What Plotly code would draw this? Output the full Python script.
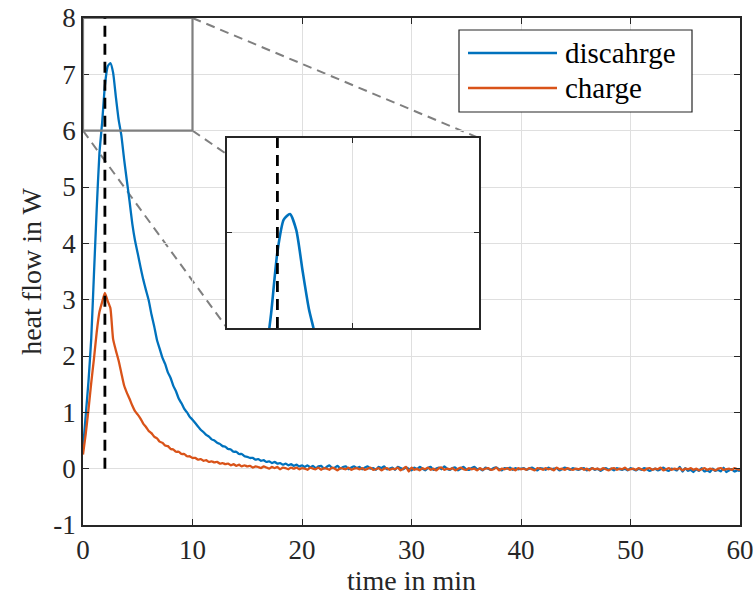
import plotly.graph_objects as go

# ---------------- data ----------------
SAMPLE_START_MIN = 0.0
SAMPLE_STEP_MIN = 0.25

discharge_W = [
    0.35, 0.95, 1.55, 2.30, 3.45, 4.60, 5.60, 6.15, 6.80, 7.14, 7.20, 7.03, 6.60, 6.20, 5.92, 5.50, 5.12, 4.75, 4.35, 4.05, 3.82,
    3.58, 3.36, 3.17, 2.99, 2.74, 2.53, 2.29, 2.13, 1.97, 1.86, 1.71, 1.61, 1.47, 1.37, 1.24, 1.16, 1.06, 1.00, 0.92, 0.87,
    0.81, 0.75, 0.69, 0.65, 0.60, 0.57, 0.52, 0.50, 0.46, 0.44, 0.40, 0.39, 0.35, 0.34, 0.30, 0.30, 0.26, 0.26, 0.22, 0.21,
    0.19, 0.19, 0.16, 0.17, 0.14, 0.15, 0.12, 0.13, 0.10, 0.12, 0.09, 0.10, 0.07, 0.09, 0.06, 0.08, 0.05, 0.07, 0.04, 0.06,
    0.03, 0.06, 0.02, 0.05, 0.01, 0.04, 0.05, 0.00, 0.03, 0.06, 0.01, 0.02, 0.05, 0.00, 0.03, 0.04, -0.01, 0.02, 0.04, 0.01,
    0.03, -0.01, 0.02, 0.04, 0.00, 0.01, -0.02, 0.03, 0.01, 0.04, -0.01, 0.00, 0.02, -0.02, 0.03, 0.01, -0.01, 0.02, 0.00, -0.03,
    0.02, -0.01, 0.03, 0.00, -0.03, 0.01, 0.03, -0.02, 0.00, 0.02, -0.01, 0.04, 0.00, -0.02, 0.01, 0.02, -0.03, 0.00, 0.03, -0.01,
    -0.02, 0.01, 0.03, -0.01, 0.00, -0.03, 0.02, 0.00, -0.02, 0.01, 0.02, -0.01, -0.03, 0.01, 0.00, 0.02, -0.02, 0.01, -0.01, 0.00,
    0.01, -0.02, 0.00, 0.02, -0.01, -0.03, 0.01, 0.00, -0.02, 0.02, -0.01, 0.00, 0.01, -0.03, -0.01, 0.02, 0.00, -0.02, 0.01, -0.01,
    -0.02, 0.00, 0.01, -0.03, -0.01, 0.01, -0.02, 0.00, -0.04, -0.01, 0.01, -0.02, 0.00, -0.03, 0.01, -0.01, -0.02, 0.00, -0.03, 0.01,
    -0.01, -0.03, 0.00, -0.02, 0.01, -0.01, -0.04, -0.02, 0.00, -0.03, -0.01, 0.02, -0.02, -0.04, 0.00, -0.01, -0.03, 0.03, -0.05, 0.01,
    -0.04, -0.02, -0.06, -0.01, -0.04, 0.01, -0.05, -0.03, -0.06, 0.00, -0.04, -0.02, -0.05, 0.02, -0.06, -0.03, -0.01, -0.05, -0.03, -0.04,
]

charge_W = [
    0.25, 0.62, 1.05, 1.52, 1.95, 2.42, 2.78, 2.96, 3.12, 2.98, 2.85, 2.30, 2.10, 1.92, 1.70, 1.48, 1.35, 1.24, 1.12, 1.02, 0.96,
    0.89, 0.80, 0.74, 0.67, 0.63, 0.57, 0.54, 0.48, 0.46, 0.41, 0.40, 0.35, 0.34, 0.30, 0.30, 0.26, 0.26, 0.22, 0.22, 0.19,
    0.19, 0.16, 0.17, 0.14, 0.15, 0.12, 0.13, 0.11, 0.12, 0.09, 0.10, 0.08, 0.09, 0.06, 0.08, 0.05, 0.07, 0.04, 0.06, 0.04,
    0.05, 0.02, 0.04, 0.03, 0.01, 0.04, 0.02, 0.00, 0.03, 0.01, 0.03, -0.01, 0.02, 0.01, -0.01, 0.02, 0.00, 0.02, -0.01, 0.01,
    0.00, -0.02, 0.02, 0.00, -0.01, 0.02, -0.02, 0.01, 0.00, -0.02, 0.02, 0.00, -0.03, 0.01, 0.00, -0.01, 0.02, -0.02, 0.00, 0.01,
    -0.01, 0.01, -0.02, 0.00, 0.02, -0.02, -0.01, 0.01, -0.03, 0.00, 0.01, -0.02, 0.00, -0.01, 0.02, -0.03, 0.00, 0.03, -0.05, 0.02,
    -0.02, 0.00, -0.03, 0.01, -0.01, 0.02, -0.02, 0.00, -0.03, 0.01, 0.02, -0.02, 0.00, -0.01, 0.01, -0.03, 0.00, 0.02, -0.01, -0.02,
    0.01, -0.01, 0.00, -0.03, 0.01, -0.02, 0.00, 0.01, -0.02, -0.01, 0.02, -0.03, 0.00, -0.01, 0.01, -0.02, 0.00, -0.03, 0.01, -0.01,
    0.00, -0.02, 0.01, -0.01, -0.03, 0.01, 0.00, -0.02, 0.01, -0.01, 0.00, -0.03, 0.02, -0.01, 0.00, -0.02, 0.01, -0.01, -0.02, 0.00,
    -0.01, 0.01, -0.02, 0.00, -0.03, 0.01, -0.01, 0.00, -0.02, 0.01, -0.01, -0.03, 0.00, 0.01, -0.02, 0.00, -0.01, 0.02, -0.02, -0.01,
    0.00, -0.02, 0.01, -0.01, -0.03, 0.00, 0.01, -0.02, 0.00, -0.01, 0.02, -0.03, -0.01, 0.01, -0.02, 0.00, -0.01, 0.01, -0.03, 0.00,
    -0.01, 0.01, -0.02, 0.00, -0.03, -0.01, 0.01, -0.02, 0.00, -0.01, -0.03, 0.00, 0.01, -0.02, -0.01, 0.00, -0.02, 0.01, -0.01, -0.02,
]

series_names = ["discahrge", "charge"]
series_colors = ["#0072BD", "#D95319"]

x_range = [0, 60]
y_range = [-1, 8]
x_ticks = [0, 10, 20, 30, 40, 50, 60]
x_tick_labels = ["0", "10", "20", "30", "40", "50", "60"]
y_ticks = [-1, 0, 1, 2, 3, 4, 5, 6, 7, 8]
y_tick_labels = ["-1", "0", "1", "2", "3", "4", "5", "6", "7", "8"]

zoom_x = [0, 10]
zoom_y = [6, 8]
zoom_x_tick = [5]
zoom_y_tick = [7]
marker_time_min = 2.0
marker_y = [0, 8]

x_title = "time in min"
y_title = "heat flow in W"

# ---------------- styling ----------------
FONT = "Liberation Serif"
TXT = "#262626"
GRID = "#DFDFDF"
GRAY = "#7F7F7F"
W, H = 753, 597
ML, MR, MT, MB = 83, 13, 18, 72

inset_dom_x = [0.2192, 0.6027]
inset_dom_y = [0.3886, 0.7633]

fig = go.Figure()

for vals, name, col in zip([discharge_W, charge_W], series_names, series_colors):
    fig.add_trace(go.Scatter(x0=SAMPLE_START_MIN, dx=SAMPLE_STEP_MIN, y=vals, mode="lines",
                             name=name, line=dict(color=col, width=2.3, shape="spline", smoothing=0.5),
                             showlegend=False, xaxis="x", yaxis="y", hoverinfo="skip"))
for vals, name, col in zip([discharge_W, charge_W], series_names, series_colors):
    fig.add_trace(go.Scatter(x0=SAMPLE_START_MIN, dx=SAMPLE_STEP_MIN, y=vals, mode="lines",
                             name=name, line=dict(color=col, width=2.6, shape="spline", smoothing=0.6),
                             showlegend=False, xaxis="x2", yaxis="y2", hoverinfo="skip"))

axis_common = dict(showline=True, linecolor=TXT, linewidth=1.5, mirror="allticks",
                   ticks="inside", tickcolor=TXT, tickwidth=1.3, automargin=False,
                   showgrid=True, gridcolor=GRID, gridwidth=1, zeroline=False,
                   ticklabeloverflow="allow",
                   tickfont=dict(family=FONT, size=27, color=TXT))

fig.update_layout(
    width=W, height=H,
    margin=dict(l=ML, r=MR, t=MT, b=MB),
    paper_bgcolor="white", plot_bgcolor="white",
    showlegend=False,
    xaxis=dict(range=x_range, tickvals=x_ticks, ticktext=x_tick_labels, ticklen=6,
               domain=[0, 1], anchor="y", ticklabelstandoff=0,
               title=dict(text=x_title, font=dict(family=FONT, size=28, color=TXT), standoff=2),
               **axis_common),
    yaxis=dict(range=y_range, tickvals=y_ticks, ticktext=y_tick_labels, ticklen=6,
               domain=[0, 1], anchor="x", ticklabelstandoff=0,
               title=dict(text=y_title, font=dict(family=FONT, size=28, color=TXT), standoff=4),
               **axis_common),
    xaxis2=dict(range=zoom_x, tickvals=zoom_x_tick, ticklen=5, domain=inset_dom_x, anchor="y2",
                showticklabels=False, **axis_common),
    yaxis2=dict(range=zoom_y, tickvals=zoom_y_tick, ticklen=5, domain=inset_dom_y, anchor="x2",
                showticklabels=False, **axis_common),
)

# paper position of the zoom box corners (computed from the main axis ranges)
def px(xv):
    return (xv - x_range[0]) / (x_range[1] - x_range[0])

def py(yv):
    return (yv - y_range[0]) / (y_range[1] - y_range[0])

shapes = []
conn = dict(type="line", xref="paper", yref="paper", layer="below",
            line=dict(color=GRAY, width=2, dash="9px,6px"))
shapes.append(dict(conn, x0=px(zoom_x[1]), y0=py(zoom_y[1]), x1=inset_dom_x[1], y1=inset_dom_y[1]))
shapes.append(dict(conn, x0=px(zoom_x[0]), y0=py(zoom_y[0]), x1=inset_dom_x[0], y1=inset_dom_y[0]))
shapes.append(dict(conn, x0=px(zoom_x[1]), y0=py(zoom_y[0]), x1=inset_dom_x[1], y1=inset_dom_y[0]))
# white background of the inset (drawn in the inset subplot, under its grid)
shapes.append(dict(type="rect", xref="x2", yref="y2", layer="below",
                   x0=zoom_x[0], x1=zoom_x[1], y0=zoom_y[0], y1=zoom_y[1],
                   fillcolor="white", line=dict(width=0)))
# zoom rectangle on main axes
shapes.append(dict(type="rect", xref="x", yref="y", layer="above",
                   x0=zoom_x[0], x1=zoom_x[1], y0=zoom_y[0], y1=zoom_y[1],
                   line=dict(color=GRAY, width=2.2)))
# dashed vertical marker lines
shapes.append(dict(type="line", xref="x", yref="y", layer="above",
                   x0=marker_time_min, x1=marker_time_min, y0=marker_y[0], y1=marker_y[1],
                   line=dict(color="black", width=2.8, dash="11px,7px")))
shapes.append(dict(type="line", xref="x2", yref="y2", layer="above",
                   x0=marker_time_min, x1=marker_time_min, y0=zoom_y[0], y1=zoom_y[1],
                   line=dict(color="black", width=2.8, dash="11px,7px")))

# legend (drawn to match the long MATLAB line samples)
pw = W - ML - MR
ph = H - MT - MB
def lx(pxv):
    return (pxv - ML) / pw
def ly(pyv):
    return 1 - (pyv - MT) / ph

shapes.append(dict(type="rect", xref="paper", yref="paper", layer="above",
                   x0=lx(459), x1=lx(692), y0=ly(112), y1=ly(30),
                   fillcolor="white", line=dict(color=TXT, width=1.2)))
annotations = []
for name, col, yy in zip(series_names, series_colors, [53, 88]):
    shapes.append(dict(type="line", xref="paper", yref="paper", layer="above",
                       x0=lx(468), x1=lx(557), y0=ly(yy), y1=ly(yy),
                       line=dict(color=col, width=2.6)))
    annotations.append(dict(xref="paper", yref="paper", x=lx(563), y=ly(yy), xanchor="left",
                            yanchor="middle", text=name, showarrow=False,
                            font=dict(family=FONT, size=29, color="black")))

fig.update_layout(shapes=shapes, annotations=annotations)

fig.write_html("out.html", config={"displayModeBar": False})

# remove the browser's default page margin so the figure sits at the window origin
with open("out.html", "r", encoding="utf-8") as f:
    html = f.read()
html = html.replace("<head>", "<head><style>html,body{margin:0;padding:0;overflow:hidden;}</style>", 1)
with open("out.html", "w", encoding="utf-8") as f:
    f.write(html)
